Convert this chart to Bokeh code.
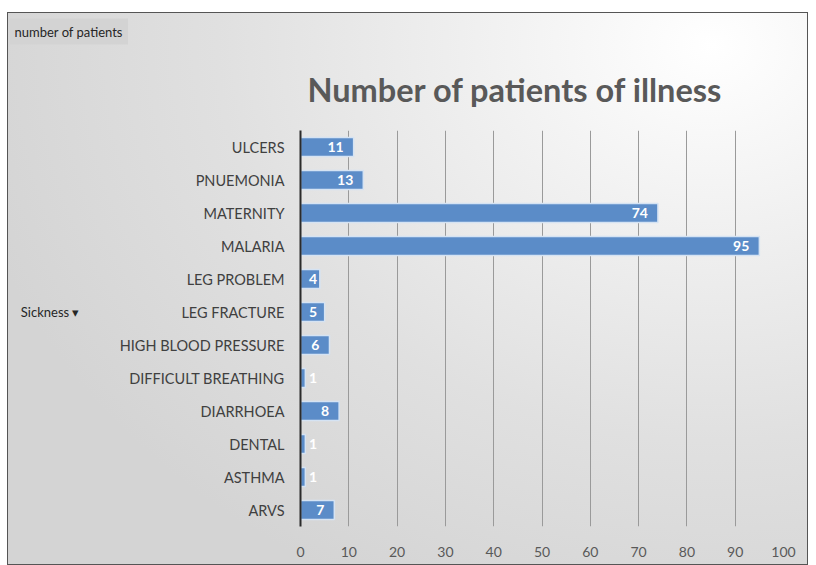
from bokeh.plotting import figure
from bokeh.models import (Range1d, FactorRange, ColumnDataSource, Title,
                          CategoricalAxis)
from bokeh.core.properties import value
from bokeh.embed import file_html
from bokeh.resources import INLINE

# Data (bottom to top, as in the chart)
sickness = ["ARVS", "ASTHMA", "DENTAL", "DIARRHOEA", "DIFFICULT BREATHING",
            "HIGH BLOOD PRESSURE", "LEG FRACTURE", "LEG PROBLEM", "MALARIA",
            "MATERNITY", "PNUEMONIA", "ULCERS"]
patients = [7, 1, 1, 8, 1, 6, 5, 4, 95, 74, 13, 11]
x_ticks = [0, 10, 20, 30, 40, 50, 60, 70, 80, 90, 100]
chart_title = "Number of patients of illness"
value_field = "number of patients"
axis_field = "Sickness \u25be"
axis_field_row = "LEG FRACTURE"   # row beside which the field button sits

FONT = "Lato"

p = figure(width=801, height=553, output_backend="svg", toolbar_location=None,
           y_range=FactorRange(factors=sickness), x_range=Range1d(0, 100),
           min_border_left=293, min_border_right=25, min_border_top=118,
           min_border_bottom=39, title=None)
p.styles = {
    "margin-left": "7px",
    "margin-top": "12px",
    "background-image": "radial-gradient(ellipse 95% 110% at 88% 6%, #ffffff 0%, #eeeeee 35%, #e0e0e0 65%, #d4d4d4 100%)",
    "outline": "1px solid #555555",
    "outline-offset": "-1px",
}
p.background_fill_color = None
p.border_fill_color = None
p.outline_line_color = None

# label positions (inside end, clamped for small bars)
lab_x = [max(v, 5.5) for v in patients]
src = ColumnDataSource(dict(y=sickness, v=patients, lx=lab_x,
                            t=[str(v) for v in patients]))

p.hbar(y="y", right="v", left=0, height=0.57, source=src,
       fill_color="#5b8cc8", line_color="#d5e3f3", line_width=1.5)
p.text(x="lx", y="y", text="t", source=src, x_offset=-10,
       text_align="right", text_baseline="middle", text_color="white",
       text_font=value(FONT), text_font_style="bold", text_font_size="14px")

# grid
p.ygrid.grid_line_color = None
p.xgrid.grid_line_color = "#9a9a9a"
p.xgrid.grid_line_width = 1
p.xgrid.ticker = x_ticks[1:]

# x axis
p.xaxis.ticker = x_ticks
p.xaxis.axis_line_color = None
p.xaxis.major_tick_line_color = None
p.xaxis.minor_tick_line_color = None
p.xaxis.major_label_standoff = 14
p.xaxis.major_label_text_font = FONT
p.xaxis.major_label_text_font_size = "14px"
p.xaxis.major_label_text_color = "#595959"

# y axis
yax = p.yaxis[0]
yax.axis_line_color = "#2b2b2b"
yax.axis_line_width = 2
yax.major_tick_line_color = None
yax.minor_tick_line_color = None
yax.major_label_standoff = 10
yax.major_label_text_font = FONT
yax.major_label_text_font_size = "14.5px"
yax.major_label_text_color = "#404040"

# "Sickness" field button: an outer left categorical axis whose only
# visible factor sits on the same row as axis_field_row
btn_factors = [axis_field if f == axis_field_row else "\u200b" * (i + 1)
               for i, f in enumerate(sickness)]
p.extra_y_ranges = {"btn": FactorRange(factors=btn_factors)}
btn_axis = CategoricalAxis(y_range_name="btn")
btn_axis.axis_line_color = None
btn_axis.major_tick_line_color = None
btn_axis.minor_tick_line_color = None
btn_axis.major_label_standoff = 31
btn_axis.major_label_text_font = FONT
btn_axis.major_label_text_font_size = "13px"
btn_axis.major_label_text_color = "#262626"
props = btn_axis.properties()
if "major_label_background_fill_color" in props:
    btn_axis.major_label_background_fill_color = "#d4d4d4"
if "major_label_padding" in props:
    btn_axis.major_label_padding = 5
p.add_layout(btn_axis, "left")

# titles (main title nearest the frame, field button above it)
main_title = Title(text=chart_title, align="left", offset=7, standoff=43,
                   text_font=FONT, text_font_style="bold",
                   text_font_size="32.5px", text_color="#595959")
field_title = Title(text=value_field, align="left", offset=-291, standoff=4,
                    text_font=FONT, text_font_style="normal",
                    text_font_size="13px", text_color="#262626",
                    background_fill_color="#d3d3d3", padding=5)
p.add_layout(main_title, "above")
p.add_layout(field_title, "above")

open("out.html", "w").write(file_html(p, INLINE))
